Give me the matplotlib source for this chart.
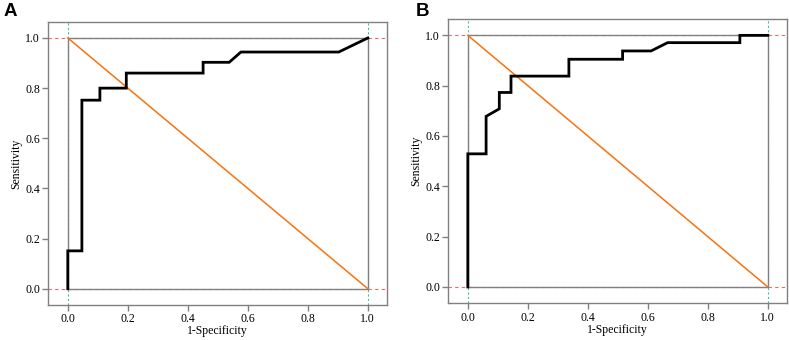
import matplotlib
matplotlib.use("Agg")
import matplotlib.pyplot as plt
import numpy as np

# ROC curve A (1-specificity, sensitivity)
fpr_a = [0.0, 0.0, 0.047, 0.047, 0.107, 0.107, 0.195, 0.195, 0.451, 0.451, 0.538, 0.577, 0.903, 1.0]
tpr_a = [0.0, 0.151, 0.151, 0.752, 0.752, 0.800, 0.800, 0.860, 0.860, 0.903, 0.903, 0.944, 0.944, 1.0]

# ROC curve B
fpr_b = [0.0, 0.0, 0.061, 0.061, 0.105, 0.105, 0.144, 0.144, 0.337, 0.337, 0.516, 0.516, 0.611, 0.666, 0.907, 0.907, 1.0]
tpr_b = [0.0, 0.529, 0.529, 0.678, 0.708, 0.773, 0.773, 0.838, 0.838, 0.905, 0.905, 0.938, 0.938, 0.971, 0.971, 1.0, 1.0]

ticks = [0.0, 0.2, 0.4, 0.6, 0.8, 1.0]
tick_labels = ["0.0", "0.2", "0.4", "0.6", "0.8", "1.0"]

fig = plt.figure(figsize=(7.89, 3.40), dpi=100)
ax_a = fig.add_axes([0.0612, 0.1029, 0.4297, 0.8333])
ax_b = fig.add_axes([0.5682, 0.1080, 0.4296, 0.8361])

serif = ["Liberation Serif", "DejaVu Serif"]
gray = "#808080"

for ax, fx, ty, letter, lx in [(ax_a, fpr_a, tpr_a, "A", 0.004), (ax_b, fpr_b, tpr_b, "B", 0.527)]:
    ax.set_xlim(-0.065, 1.065)
    ax.set_ylim(-0.065, 1.065)
    # reference lines
    ax.axhline(0, color="#ff6060", ls=(0, (3, 3)), lw=0.8, zorder=1)
    ax.axhline(1, color="#ff6060", ls=(0, (3, 3)), lw=0.8, zorder=1)
    ax.axvline(0, color="#40c0b0", ls=(0, (2, 2)), lw=0.8, zorder=1)
    ax.axvline(1, color="#40c0b0", ls=(0, (2, 2)), lw=0.8, zorder=1)
    ax.plot([0, 1, 1, 0, 0], [0, 0, 1, 1, 0], color=gray, lw=1.0, zorder=2)
    ax.plot([0, 1], [1, 0], color="#f7730e", lw=1.1, zorder=3)
    ax.plot(fx, ty, color="black", lw=2.0, zorder=4, solid_joinstyle="miter")
    for s in ax.spines.values():
        s.set_color(gray)
        s.set_linewidth(1.0)
    ax.set_xticks(ticks)
    ax.set_xticklabels(tick_labels, fontfamily=serif, fontsize=8.5)
    ax.set_yticks(ticks)
    ax.set_yticklabels(tick_labels, fontfamily=serif, fontsize=8.5)
    ax.tick_params(length=4.5, color=gray, width=1.0, pad=1.5)
    ax.set_xlabel("1-Specificity", fontfamily=serif, fontsize=8.5, labelpad=0)
    ax.set_ylabel("Sensitivity", fontfamily=serif, fontsize=8.5, labelpad=2)
    fig.text(lx, 0.99, letter, fontsize=13.5, fontweight="bold", ha="left", va="top",
             fontfamily=["Liberation Sans", "DejaVu Sans"])

fig.savefig("out.png", dpi=100)
